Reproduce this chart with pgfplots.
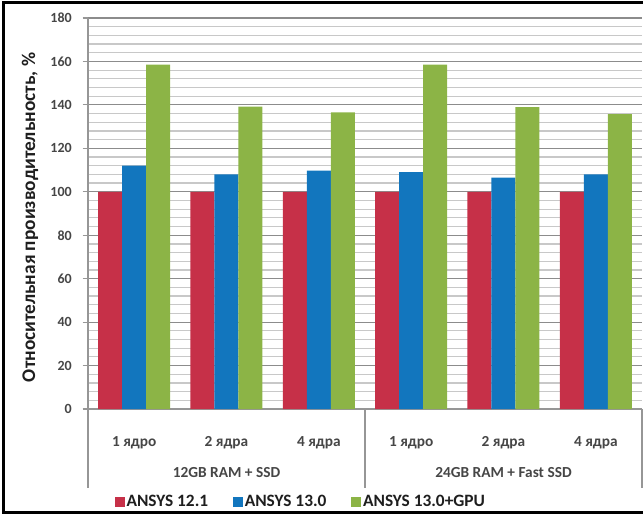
\documentclass[border=0pt]{standalone}
\usepackage{pgfplots}
\pgfplotsset{compat=1.18}
\usepackage{fontspec}
\setmainfont{Carlito}

\definecolor{cRed}{RGB}{198,48,72}
\definecolor{cBlue}{RGB}{18,118,190}
\definecolor{cGreen}{RGB}{140,180,70}
\definecolor{gridMajor}{RGB}{140,140,140}
\definecolor{gridMinor}{RGB}{200,200,200}
\definecolor{axisGray}{RGB}{150,150,150}
\definecolor{tickText}{RGB}{70,70,70}
\definecolor{legendText}{RGB}{30,30,30}

\pgfplotsset{
  sq legend/.style={legend image code/.code={\fill[##1] (0pt,-3.6pt) rectangle (7.5pt,3.9pt);}}
}

\begin{document}
\begin{tikzpicture}
\useasboundingbox (0,0) rectangle (482.25pt,386.25pt);
% outer frame (open on the right)
\draw[line width=2.25pt] (482.25pt,384pt) -- (2.25pt,384pt) -- (2.25pt,2pt) -- (482.25pt,2pt);

\begin{axis}[
  at={(66pt,79.5pt)}, anchor=south west,
  scale only axis, width=415.5pt, height=293.25pt,
  ybar=0pt, bar width=18pt,
  xmin=-0.5, xmax=5.5, ymin=0, ymax=180,
  xtick={0,...,5},
  xticklabels={1 ядро,2 ядра,4 ядра,1 ядро,2 ядра,4 ядра},
  ytick={0,20,...,180}, minor y tick num=4,
  ymajorgrids, yminorgrids,
  major grid style={draw=gridMajor, line width=0.9pt},
  minor grid style={draw=gridMinor, line width=0.9pt},
  axis x line*=bottom, axis y line*=left,
  axis line style={draw=axisGray, line width=0.8pt, -},
  tick align=outside,
  xtick style={draw=none},
  ytick style={draw=axisGray, line width=0.8pt},
  major tick length=4pt, minor tick length=0pt,
  /pgf/number format/assume math mode=true,
  yticklabel style={font=\bfseries\fontsize{10.5}{12}\selectfont, text=tickText, anchor=east, inner sep=0pt, xshift=-8pt},
  xticklabel style={font=\bfseries\fontsize{11.5}{13}\selectfont, text=tickText, anchor=base, yshift=-24pt},
  ylabel={Относительная производительность, \%},
  ylabel style={font=\bfseries\fontsize{14.5}{16}\selectfont, text=legendText, at={(axis description cs:-0.1047,0.49)}, anchor=center},
  clip=false,
  legend columns=3,
  legend style={at={(0.384,-0.238)}, anchor=center, draw=none, fill=none,
    font=\bfseries\fontsize{13}{15}\selectfont, text=legendText,
    /tikz/every even column/.append style={column sep=17pt},
    nodes={inner sep=1.5pt}},
]
\addplot[fill=cRed, draw=none, sq legend] coordinates {(0,100) (1,100) (2,100) (3,100) (4,100) (5,100)};
\addplot[fill=cBlue, draw=none, sq legend] coordinates {(0,112) (1,108) (2,109.7) (3,109) (4,106.5) (5,108)};
\addplot[fill=cGreen, draw=none, sq legend] coordinates {(0,158.5) (1,139.2) (2,136.6) (3,158.5) (4,139) (5,135.7)};
\legend{ANSYS 12.1, ANSYS 13.0, ANSYS 13.0+GPU}

% group separators of the two-level category axis
\draw[axisGray, line width=0.8pt] (axis cs:-0.5,0) -- ([yshift=-59.25pt]axis cs:-0.5,0);
\draw[axisGray, line width=0.8pt] (axis cs:2.5,0) -- ([yshift=-59.25pt]axis cs:2.5,0);
\draw[axisGray, line width=0.8pt] (axis cs:5.5,0) -- ([yshift=-59.25pt]axis cs:5.5,0);
\node[anchor=base, font=\bfseries\fontsize{11.5}{13}\selectfont, text=tickText] at ([yshift=-51pt]axis cs:1,0) {12GB RAM + SSD};
\node[anchor=base, font=\bfseries\fontsize{11.5}{13}\selectfont, text=tickText] at ([yshift=-51pt]axis cs:4,0) {24GB RAM + Fast SSD};
\end{axis}
\end{tikzpicture}
\end{document}
